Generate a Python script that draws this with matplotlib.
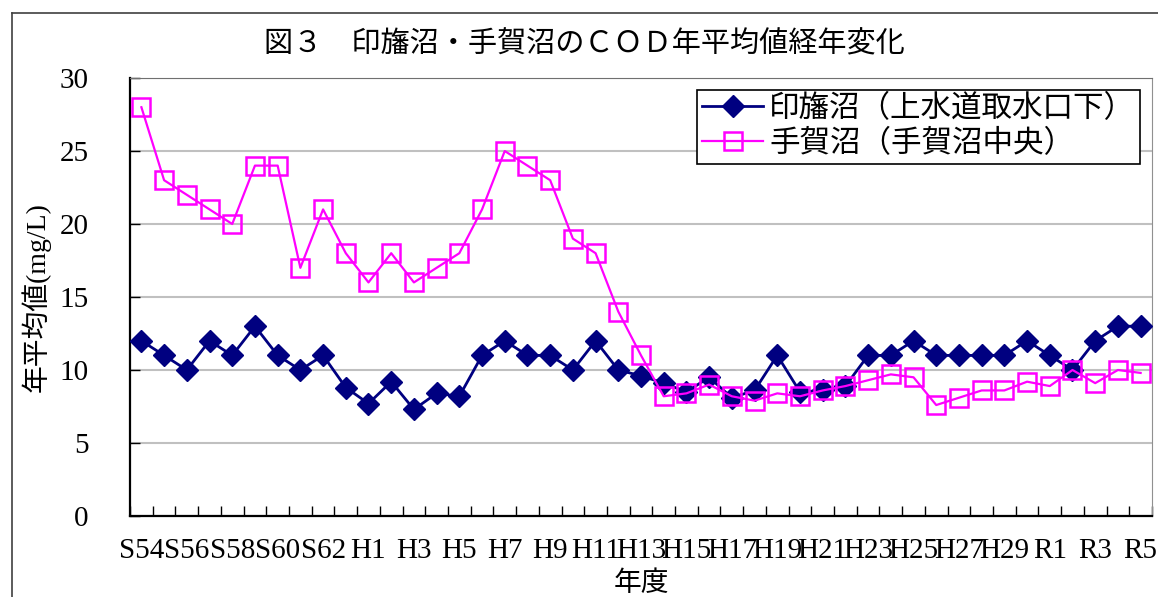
import matplotlib
matplotlib.use("Agg")
import matplotlib.pyplot as plt
from matplotlib.lines import Line2D
import numpy as np

plt.rcParams['font.family'] = ['Liberation Serif', 'Noto Sans CJK JP']

# 年度 S54 ~ R5
years = (["S%d" % y for y in range(54, 64)]
         + ["H%d" % y for y in range(1, 31)]
         + ["R%d" % y for y in range(1, 6)])

inba = [12, 11, 10, 12, 11, 13, 11, 10, 11, 8.8,
        7.7, 9.2, 7.3, 8.4, 8.2, 11, 12, 11, 11, 10,
        12, 10, 9.6, 9.1, 8.5, 9.5, 8.1, 8.6, 11, 8.5,
        8.6, 8.9, 11, 11, 12, 11, 11, 11, 11, 12,
        11, 10, 12, 13, 13]
teganuma = [28, 23, 22, 21, 20, 24, 24, 17, 21, 18,
            16, 18, 16, 17, 18, 21, 25, 24, 23, 19,
            18, 14, 11, 8.2, 8.4, 9.0, 8.2, 7.9, 8.4, 8.2,
            8.6, 8.9, 9.3, 9.7, 9.5, 7.6, 8.1, 8.6, 8.6, 9.2,
            8.9, 10, 9.1, 10, 9.8]

label_inba = "印旛沼（上水道取水口下）"
label_tega = "手賀沼（手賀沼中央）"

fig = plt.figure(figsize=(11.58, 5.97), dpi=100)
ax = fig.add_axes([0.1123, 0.1357, 0.8825, 0.7336])

x = np.arange(len(years))
ax.plot(x, inba, color="#000080", lw=2, marker="D", ms=11,
        mfc="#000080", mec="#000080", label=label_inba, zorder=3)
ax.plot(x, teganuma, color="#FF00FF", lw=1.6, marker="s", ms=13,
        mfc="none", mec="#FF00FF", mew=1.8, label=label_tega, zorder=4)

ax.set_xlim(-0.5, len(years) - 0.5)
ax.set_ylim(0, 30)
ax.set_yticks(range(0, 31, 5))
ax.yaxis.grid(True, color="#C0C0C0", lw=1.5)
ax.set_axisbelow(True)

# 目盛は区切り位置、ラベルは2年おき
ax.set_xticks(np.arange(-0.5, len(years), 1), minor=True)
ax.set_xticks(x[::2])
ax.set_xticklabels(years[::2])
ax.tick_params(axis="x", which="major", length=0, pad=16, labelsize=21)
ax.tick_params(axis="x", which="minor", direction="in", length=7, width=1)
ax.tick_params(axis="y", direction="in", length=7, width=1, pad=30,
               labelsize=21)

for s in ["left", "bottom"]:
    ax.spines[s].set_color("black")
    ax.spines[s].set_linewidth(1.6)
ax.spines["top"].set_color("#707070")
ax.spines["right"].set_color("#909090")

ax.set_ylabel("年平均値(mg/L)", fontsize=20, labelpad=6)
ax.set_xlabel("年度", fontsize=20, labelpad=5)

leg = ax.legend(loc="upper right", fontsize=22, frameon=True, fancybox=False,
                edgecolor="black", framealpha=1, borderpad=0.15,
                handlelength=2.0, handletextpad=0.2, labelspacing=0.2,
                borderaxespad=0.4)
leg.get_frame().set_linewidth(1.2)

fig.text(0.505, 0.925, "図３　印旛沼・手賀沼のＣＯＤ年平均値経年変化",
         ha="center", va="center", fontsize=21)

# 外枠
fig.add_artist(Line2D([0.0104, 0.0104], [0, 0.978], color="#404040", lw=1.2))
fig.add_artist(Line2D([0.0104, 1], [0.978, 0.978], color="#404040", lw=1.2))

fig.savefig("out.png", dpi=100)
